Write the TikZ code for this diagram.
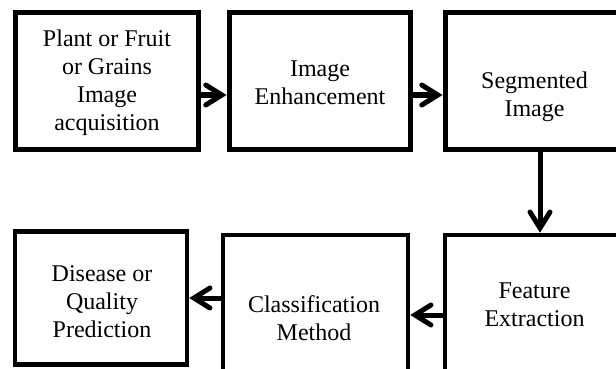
\documentclass[tikz,border=0pt]{standalone}
\usepackage{fontspec}
\setmainfont{Liberation Serif}
\usetikzlibrary{arrows.meta}

\begin{document}
\begin{tikzpicture}
        [x=1pt, y=-1pt,
        box/.style={draw, line width=5pt, rectangle, inner sep=0pt},
        lbl/.style={align=center, font=\fontsize{24}{28}\selectfont, inner sep=0pt},
        flow/.style={line width=5pt, -{Straight Barb[length=16pt, width=20pt, line cap=round]}}]

        % frame of the figure (boxes run past it on the right and below)
        \useasboundingbox (0,0) rectangle (616,369);
        \clip (0,0) rectangle (616,369);

        % boxes
        \node[box, minimum width=183pt, minimum height=136pt] (acq) at (107,81) {};
        \node[box, minimum width=181pt, minimum height=136pt] (enh) at (319.5,81) {};
        \node[box, minimum width=185pt, minimum height=136pt] (seg) at (537.5,81) {};
        \node[box, minimum width=185pt, minimum height=136pt, line width=4.5pt] (feat) at (537.5,303) {};
        \node[box, minimum width=185pt, minimum height=136pt, line width=4.5pt] (cls) at (315.5,303) {};
        \node[box, minimum width=172pt, minimum height=133pt, line width=4.5pt] (pred) at (101,298) {};

        % texts
        \node[lbl] (acqtxt) at (107,83) {Plant or Fruit\\or Grains\\Image\\acquisition};
        \node[lbl] (enhtxt) at (320,83) {Image\\Enhancement};
        \node[lbl] (segtxt) at (534.5,97) {Segmented\\Image};
        \node[lbl] (feattxt) at (534.5,305) {Feature\\Extraction};
        \node[lbl] (clstxt) at (314,318) {Classification\\Method};
        \node[lbl] (predtxt) at (102,302) {Disease or\\Quality\\Prediction};

        % arrows
        \draw[flow] ([yshift=-14pt]acq.east) -- ([yshift=-14pt]enh.west);
        \draw[flow] ([yshift=-14pt]enh.east) -- ([yshift=-14pt]seg.west);
        \draw[flow] ([xshift=2.5pt]seg.south) -- ([xshift=2.5pt]feat.north);
        \draw[flow] ([yshift=-12pt]feat.west) -- ([yshift=-12pt]cls.west -| cls.east);
        \draw[flow] ([yshift=5pt]cls.west) -- (pred.east);

        \end{tikzpicture}
\end{document}
